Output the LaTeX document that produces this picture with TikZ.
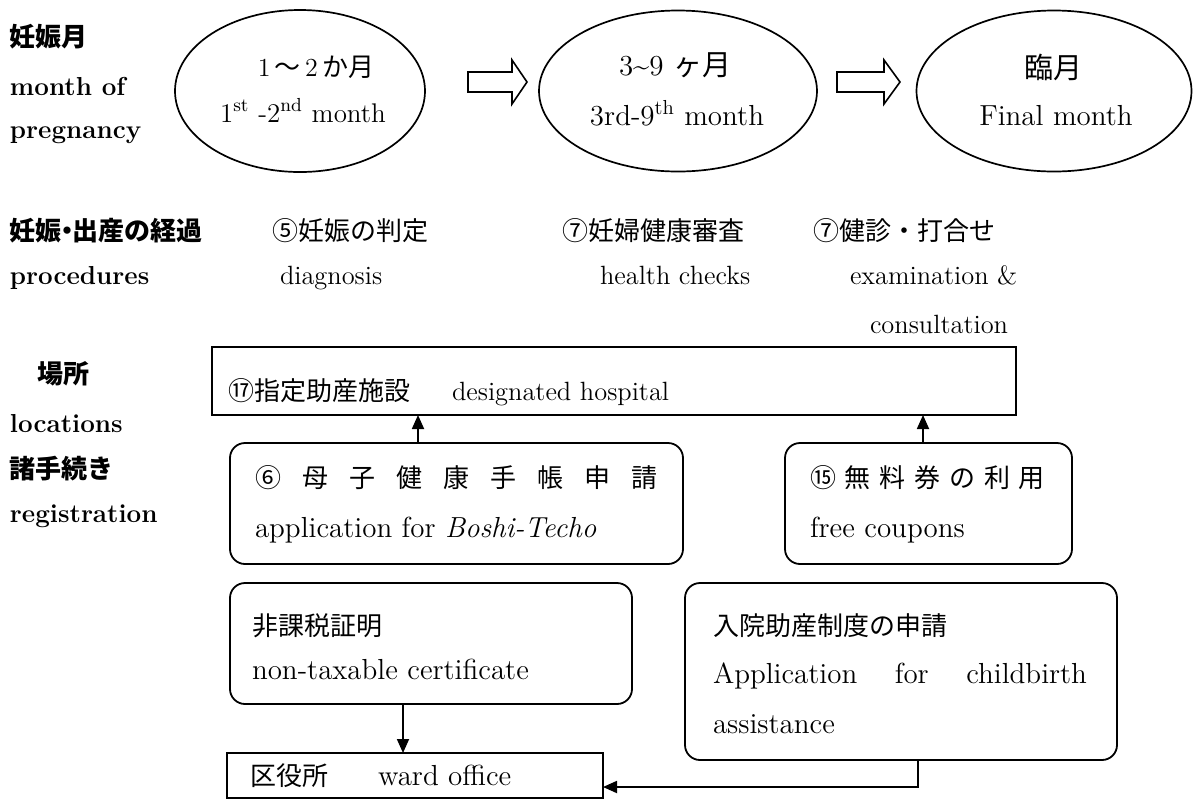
\documentclass[tikz,border=0pt]{standalone}
\usepackage{fontspec}
\newfontfamily\jp{Noto Sans CJK JP}
\usetikzlibrary{shapes.geometric,arrows.meta}

\begin{document}
\begin{tikzpicture}[x=0.5pt,y=-0.5pt,
  every node/.style={inner sep=0pt, outer sep=0pt},
  txt/.style={anchor=base west, font=\fontsize{14.5}{16}\selectfont},
  jtxt/.style={anchor=base west, font=\fontsize{13}{15}\selectfont\jp},
  ctxt/.style={anchor=base, font=\fontsize{14.5}{16}\selectfont},
  rowtxt/.style={anchor=base west, font=\fontsize{13.2}{15}\selectfont},
  head/.style={anchor=base west, font=\fontsize{13}{15}\selectfont\bfseries},
  jhead/.style={anchor=base west, font=\fontsize{13}{15}\selectfont\bfseries\jp},
  month/.style={draw, ellipse, line width=0.85pt},
  plainbox/.style={draw, rectangle, line width=0.9pt},
  roundbox/.style={draw, rectangle, rounded corners=7.5pt, line width=0.9pt},
  hollowline/.style={draw, line width=0.8pt, line join=miter},
  arr/.style={-{Triangle[length=7pt,width=6pt]}, line width=0.9pt},
]
\useasboundingbox (0,0) rectangle (1195,799);

% month of pregnancy
\node[month, minimum width=125pt, minimum height=81pt] (m1) at (300,91) {};
\node[month, minimum width=139pt, minimum height=80.5pt] (m2) at (678,91) {};
\node[month, minimum width=137.5pt, minimum height=80.5pt] (m3) at (1054,91) {};

% hollow block arrows between the months
\coordinate (a12) at (468,82);
\coordinate (a23) at (837,82);
\draw[hollowline] (a12) ++(0,-10) -- ++(44,0) -- ++(0,-12) -- ++(15,22)
  -- ++(-15,22) -- ++(0,-12) -- ++(-44,0) -- cycle;
\draw[hollowline] (a23) ++(0,-10) -- ++(47,0) -- ++(0,-12) -- ++(16,22)
  -- ++(-16,22) -- ++(0,-12) -- ++(-47,0) -- cycle;

\node[ctxt, font=\fontsize{13}{15}\selectfont] (m1a) at (316,76) {1\,{\jp ～}\,2\,{\jp か月}};
\node[ctxt, font=\fontsize{13.5}{15}\selectfont] (m1b) at (303,122) {1\textsuperscript{st} -2\textsuperscript{nd} month};
\node[ctxt] (m2a) at (675,75) {3\textasciitilde9 {\jp ヶ月}};
\node[ctxt] (m2b) at (677,125) {3rd-9\textsuperscript{th} month};
\node[ctxt] (m3a) at (1053,78) {\jp 臨月};
\node[ctxt] (m3b) at (1056,125) {Final month};

% row headings
\node[jhead] (h1) at (10,46) {妊娠月};
\node[head] (h2) at (10,95) {month of};
\node[head] (h3) at (10,138) {pregnancy};
\node[jhead] (h4) at (10,240) {妊娠\kern-0.3em・\kern-0.3em 出産の経過};
\node[head] (h5) at (10,284) {procedures};
\node[jhead] (h6) at (38,383) {場所};
\node[head] (h7) at (10,432) {locations};
\node[jhead] (h8) at (10,478) {諸手続き};
\node[head] (h9) at (10,522) {registration};

% procedures
\node[jtxt] (p1) at (272,240) {⑤妊娠の判定};
\node[rowtxt] (p1e) at (280,284) {diagnosis};
\node[jtxt] (p2) at (562,240) {⑦妊婦健康審査};
\node[rowtxt] (p2e) at (600,284) {health checks};
\node[jtxt] (p3) at (813,240) {⑦健診・打合せ};
\node[rowtxt] (p3e) at (850,284) {examination \&};
\node[rowtxt] (p3f) at (870,333) {consultation};

% locations and registration
\node[plainbox, minimum width=402pt, minimum height=34pt] (hosp) at (614,381) {};
\node[roundbox, minimum width=226.5pt, minimum height=60.5pt] (boshi) at (456.5,503.5) {};
\node[roundbox, minimum width=143.5pt, minimum height=60.5pt] (coupon) at (928.5,503.5) {};
\node[roundbox, minimum width=201pt, minimum height=60.5pt] (tax) at (431,643.5) {};
\node[roundbox, minimum width=216pt, minimum height=88.5pt] (nyuin) at (901,671.5) {};
\node[plainbox, minimum width=188pt, minimum height=22.5pt] (ward) at (415,775.5) {};

\node[jtxt] (hospj) at (228,400) {⑰指定助産施設};
\node[rowtxt] (hospe) at (452,400) {designated hospital};
\node[jtxt] (boshij) at (255,487) {\makebox[201.5pt][s]{⑥ 母 子 健 康 手 帳 申 請}};
\node[txt] (boshie) at (255,537) {application for \textit{Boshi-Techo}};
\node[jtxt] (couponj) at (810,487) {\makebox[117.5pt][s]{⑮ 無 料 券 の 利 用}};
\node[txt] (coupone) at (810,537) {free coupons};
\node[jtxt] (taxj) at (252,635) {非課税証明};
\node[txt] (taxe) at (252,679) {non-taxable certificate};
\node[jtxt] (nyuinj) at (713,635) {入院助産制度の申請};
\node[txt] (nyuine) at (713,683) {\makebox[187pt][s]{Application for childbirth}};
\node[txt] (nyuinf) at (713,733) {assistance};
\node[jtxt] (wardj) at (250,785) {区役所};
\node[txt] (warde) at (378,785) {ward office};

% connectors
\coordinate (xb) at (418,0);
\coordinate (xc) at (923,0);
\coordinate (xt) at (403,0);
\coordinate (xn) at (918,787);
\draw[arr] (xb |- boshi.north) -- (xb |- hosp.south);
\draw[arr] (xc |- coupon.north) -- (xc |- hosp.south);
\draw[arr] (xt |- tax.south) -- (xt |- ward.north);
\draw[arr] (xn |- nyuin.south) -- (xn) -- (ward.east |- xn);
\end{tikzpicture}
\end{document}
